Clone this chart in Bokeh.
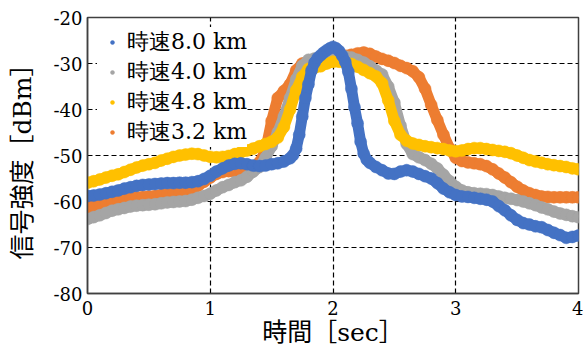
from bokeh.plotting import figure
from bokeh.models import Legend, LegendItem, FixedTicker, Range1d, ColumnDataSource
from bokeh.embed import file_html
from bokeh.resources import INLINE

# ---------------- data ----------------
time_grid = [0.00, 0.05, 0.10, 0.15, 0.20, 0.25, 0.30, 0.35, 0.40, 0.45,
             0.50, 0.55, 0.60, 0.65, 0.70, 0.75, 0.80, 0.85, 0.90, 0.95,
             1.00, 1.05, 1.10, 1.15, 1.20, 1.25, 1.30, 1.35, 1.40, 1.45,
             1.50, 1.55, 1.60, 1.65, 1.70, 1.75, 1.80, 1.85, 1.90, 1.95,
             2.00, 2.05, 2.10, 2.15, 2.20, 2.25, 2.30, 2.35, 2.40, 2.45,
             2.50, 2.55, 2.60, 2.65, 2.70, 2.75, 2.80, 2.85, 2.90, 2.95,
             3.00, 3.05, 3.10, 3.15, 3.20, 3.25, 3.30, 3.35, 3.40, 3.45,
             3.50, 3.55, 3.60, 3.65, 3.70, 3.75, 3.80, 3.85, 3.90, 3.95,
             4.00]

speed_40 = [-63.8, -63.4, -63.0, -62.5, -62.0, -61.7, -61.4, -61.1, -60.9, -60.8,
            -60.7, -60.6, -60.4, -60.2, -60.1, -60.0, -59.9, -59.6, -59.2, -58.8,
            -58.3, -57.6, -56.9, -56.4, -55.8, -55.4, -54.6, -53.5, -52.5, -50.5,
            -48.0, -45.0, -41.5, -37.5, -33.5, -30.5, -29.2, -28.9, -28.8, -28.7,
            -28.6, -28.5, -28.5, -28.7, -29.2, -29.8, -30.6, -31.5, -32.4, -35.0,
            -38.5, -43.5, -47.5, -49.7, -50.4, -51.0, -51.8, -52.8, -54.2, -55.6,
            -56.8, -57.6, -58.0, -58.2, -58.3, -58.4, -58.6, -58.9, -59.2, -59.4,
            -59.7, -60.0, -60.4, -60.8, -61.3, -61.7, -62.2, -62.6, -62.9, -63.2,
            -63.4]

speed_48 = [-55.9, -55.6, -55.2, -54.8, -54.4, -54.1, -53.6, -53.1, -52.6, -52.2,
            -51.9, -51.6, -51.1, -50.7, -50.3, -50.0, -49.8, -49.6, -49.7, -50.0,
            -50.3, -50.4, -50.3, -50.1, -49.7, -49.3, -48.9, -48.5, -48.0, -47.5,
            -47.0, -46.1, -43.8, -40.0, -35.8, -32.9, -31.2, -30.9, -30.6, -30.0,
            -29.6, -29.6, -29.8, -30.1, -30.7, -31.4, -32.1, -32.8, -34.3, -38.0,
            -42.5, -45.5, -46.8, -47.4, -47.7, -48.0, -48.2, -48.4, -48.6, -48.9,
            -49.1, -48.9, -48.6, -48.4, -48.4, -48.6, -48.8, -49.0, -49.2, -49.5,
            -50.0, -50.5, -51.0, -51.3, -51.6, -51.9, -52.1, -52.3, -52.5, -52.8,
            -53.0]

speed_32 = [-61.3, -61.0, -60.6, -60.3, -60.1, -59.9, -59.6, -59.3, -59.1, -59.0,
            -58.9, -58.8, -58.6, -58.4, -58.3, -58.2, -58.0, -57.4, -56.6, -55.7,
            -54.8, -54.0, -53.6, -53.4, -53.4, -53.3, -53.0, -52.5, -51.5, -49.0,
            -42.5, -37.5, -36.0, -34.5, -31.5, -30.0, -29.5, -29.2, -29.0, -28.9,
            -28.7, -28.5, -28.3, -28.1, -27.8, -27.6, -27.9, -28.5, -29.0, -29.4,
            -29.9, -30.5, -31.0, -31.7, -33.0, -35.5, -39.0, -42.3, -45.5, -48.5,
            -50.5, -51.2, -51.5, -51.7, -51.9, -52.3, -53.0, -53.9, -54.8, -55.8,
            -56.8, -57.6, -58.2, -58.6, -58.9, -59.0, -59.1, -59.1, -59.1, -59.1,
            -59.1]

time_80 = [0.00, 0.05, 0.10, 0.15, 0.20, 0.25, 0.30, 0.35, 0.40, 0.45,
           0.50, 0.55, 0.60, 0.65, 0.70, 0.75, 0.80, 0.85, 0.90, 0.95,
           1.00, 1.05, 1.10, 1.15, 1.20, 1.25, 1.30, 1.35, 1.40, 1.45,
           1.50, 1.55, 1.60, 1.65, 1.675, 1.70, 1.725, 1.75, 1.775, 1.80,
           1.825, 1.85, 1.875, 1.90, 1.925, 1.95, 1.975, 2.00, 2.025, 2.05,
           2.075, 2.10, 2.125, 2.15, 2.175, 2.20, 2.225, 2.25, 2.275, 2.30,
           2.35, 2.40, 2.45, 2.50, 2.55, 2.60, 2.65, 2.70, 2.75, 2.80,
           2.85, 2.90, 2.95, 3.00, 3.05, 3.10, 3.15, 3.20, 3.25, 3.30,
           3.35, 3.40, 3.45, 3.50, 3.55, 3.60, 3.65, 3.70, 3.75, 3.80,
           3.85, 3.90, 3.95, 4.00]

speed_80 = [-58.8, -58.7, -58.5, -58.2, -57.9, -57.6, -57.2, -56.9, -56.6, -56.4,
            -56.3, -56.2, -56.1, -56.0, -56.0, -55.9, -55.9, -55.8, -55.6, -55.1,
            -54.4, -53.5, -52.8, -52.2, -51.8, -51.7, -51.9, -52.2, -52.3, -52.2,
            -51.9, -51.7, -51.3, -50.6, -49.9, -48.5, -45.5, -41.5, -37.5, -34.5,
            -31.5, -29.8, -28.8, -28.2, -27.6, -27.1, -26.7, -26.4, -26.7, -27.3,
            -28.3, -29.6, -31.8, -35.5, -39.5, -43.0, -47.0, -49.6, -50.9, -51.6,
            -52.5, -53.2, -53.9, -54.0, -53.5, -53.2, -53.5, -54.0, -54.5, -55.0,
            -56.0, -57.2, -58.0, -58.6, -58.9, -59.0, -59.2, -59.4, -59.6, -60.0,
            -61.0, -61.9, -63.0, -64.0, -64.7, -65.0, -65.4, -65.6, -66.2, -66.8,
            -67.3, -67.9, -67.7, -67.4]

x_ticks = [0, 1, 2, 3, 4]
y_ticks = [-80, -70, -60, -50, -40, -30, -20]

series_labels = ["時速8.0 km", "時速4.0 km", "時速4.8 km", "時速3.2 km"]
series_colors = ["#4472C4", "#A5A5A5", "#FFC000", "#ED7D31"]

# ---------------- figure ----------------
SERIF = "DejaVu Serif, Noto Sans CJK JP"

p = figure(width=583, height=349, output_backend="svg", toolbar_location=None,
           x_range=Range1d(0, 4), y_range=Range1d(-80, -20),
           min_border_left=87, min_border_right=5, min_border_top=17,
           min_border_bottom=54)
p.background_fill_color = "white"
p.border_fill_color = "white"
p.outline_line_color = "#404040"
p.outline_line_width = 1.5

sources = [
    ColumnDataSource(dict(t=time_80, v=speed_80)),
    ColumnDataSource(dict(t=time_grid, v=speed_40)),
    ColumnDataSource(dict(t=time_grid, v=speed_48)),
    ColumnDataSource(dict(t=time_grid, v=speed_32)),
]

# draw order: orange (bottom), gray, yellow, blue (top)
renderers = {}
for idx in [3, 1, 2, 0]:
    src = sources[idx]
    col = series_colors[idx]
    p.line("t", "v", source=src, line_color=col, line_width=11,
           line_join="round", line_cap="round")
    r = p.scatter("t", "v", source=src, size=12, marker="circle",
                  fill_color=col, line_color=col, line_width=0.5)
    renderers[idx] = r

# axes
for ax in (p.xaxis[0], p.yaxis[0]):
    ax.axis_line_color = "#404040"
    ax.axis_line_width = 1.5
    ax.major_tick_in = 0
    ax.major_tick_out = 0
    ax.minor_tick_line_color = None
    ax.major_label_text_font = "DejaVu Serif"
    ax.major_label_text_font_size = "18px"
    ax.major_label_text_color = "black"
    ax.major_label_text_line_height = 1.0
    ax.axis_label_text_font = SERIF
    ax.axis_label_text_font_size = "25px"
    ax.axis_label_text_font_style = "normal"
    ax.axis_label_text_color = "black"
    ax.axis_label_text_line_height = 1.0

p.xaxis.ticker = FixedTicker(ticks=x_ticks)
p.yaxis.ticker = FixedTicker(ticks=y_ticks)
p.xaxis.major_label_overrides = {t: str(t) for t in x_ticks}
p.yaxis.major_label_overrides = {t: str(t) for t in y_ticks}
p.xaxis.major_label_standoff = 7
p.yaxis.major_label_standoff = 5
p.xaxis.axis_label = "時間［sec］"
p.yaxis.axis_label = "信号強度［dBm］"
p.xaxis.axis_label_standoff = 0
p.yaxis.axis_label_standoff = 14

# grid
for g in (p.xgrid[0], p.ygrid[0]):
    g.grid_line_color = "black"
    g.grid_line_dash = "5 3"
    g.grid_line_width = 1.2

# legend
items = [LegendItem(label=series_labels[i], renderers=[renderers[i]]) for i in range(4)]
legend = Legend(items=items, location="top_left", margin=10, padding=14,
                spacing=-4, glyph_width=30, glyph_height=10, label_standoff=0,
                label_text_font="DejaVu Serif", label_text_font_size="22px",
                label_text_color="black", label_text_line_height=1.0,
                background_fill_color="white", background_fill_alpha=1.0,
                border_line_color=None)
p.add_layout(legend)

open("out.html", "w").write(file_html(p, INLINE))
